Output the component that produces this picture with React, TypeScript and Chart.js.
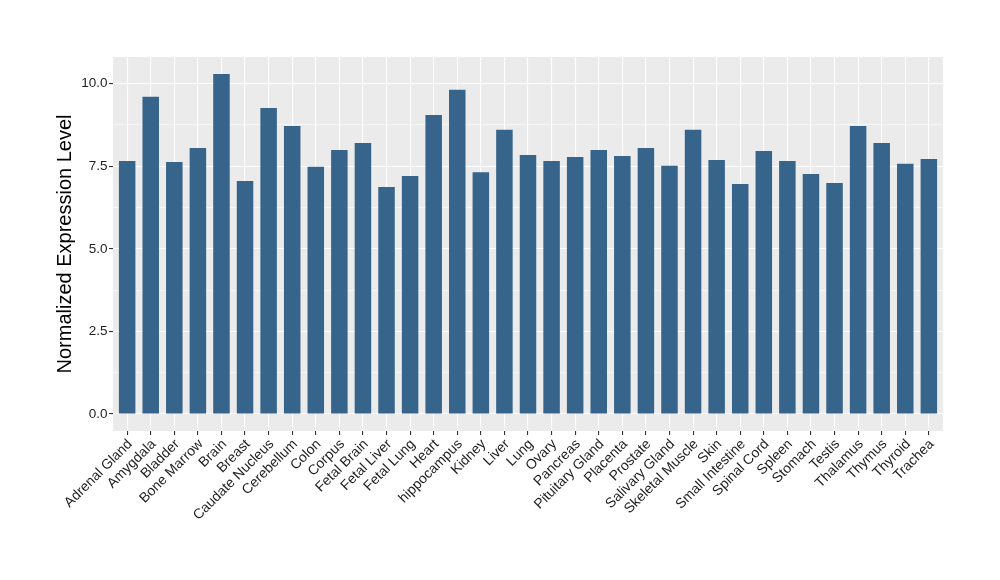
import React, { useEffect, useRef } from 'react';
import { Chart, registerables } from 'chart.js';

Chart.register(...registerables);

const categories = [
  'Adrenal Gland', 'Amygdala', 'Bladder', 'Bone Marrow', 'Brain', 'Breast',
  'Caudate Nucleus', 'Cerebellum', 'Colon', 'Corpus', 'Fetal Brain', 'Fetal Liver',
  'Fetal Lung', 'Heart', 'hippocampus', 'Kidney', 'Liver', 'Lung', 'Ovary',
  'Pancreas', 'Pituitary Gland', 'Placenta', 'Prostate', 'Salivary Gland',
  'Skeletal Muscle', 'Skin', 'Small Intestine', 'Spinal Cord', 'Spleen', 'Stomach',
  'Testis', 'Thalamus', 'Thymus', 'Thyroid', 'Trachea',
];

const values = [
  7.66, 9.60, 7.63, 8.05, 10.29, 7.05,
  9.26, 8.72, 7.48, 7.99, 8.20, 6.87,
  7.20, 9.05, 9.81, 7.32, 8.60, 7.84, 7.66,
  7.78, 7.99, 7.81, 8.05, 7.51,
  8.60, 7.69, 6.96, 7.96, 7.66, 7.26,
  6.99, 8.72, 8.20, 7.57, 7.72,
];

const yMajorTicks = [0, 2.5, 5, 7.5, 10];
const yMinorTicks = [1.25, 3.75, 6.25, 8.75];
const yTitle = 'Normalized Expression Level';

const FONT = '"Liberation Sans", Arial, Helvetica, sans-serif';
const TEXT = '#1F1F1F';

export default function App() {
  const ref = useRef<HTMLCanvasElement>(null);

  useEffect(() => {
    if (!ref.current) return;
    const maxV = Math.max(...values);

    const panelBg = {
      id: 'panelBg',
      beforeDraw(chart: any) {
        const { ctx, chartArea: a } = chart;
        ctx.save();
        ctx.fillStyle = '#EBEBEB';
        ctx.fillRect(a.left, a.top, a.right - a.left, a.bottom - a.top);
        ctx.restore();
      },
    };

    const yTitlePlugin = {
      id: 'yTitlePlugin',
      afterDraw(chart: any) {
        const { ctx, chartArea: a } = chart;
        ctx.save();
        ctx.translate(65, (a.top + a.bottom) / 2);
        ctx.rotate(-Math.PI / 2);
        ctx.font = `20px ${FONT}`;
        ctx.fillStyle = '#000000';
        ctx.textAlign = 'center';
        ctx.textBaseline = 'middle';
        ctx.fillText(yTitle, 0, 0);
        ctx.restore();
      },
    };

    const isMajor = (v: number) => yMajorTicks.includes(v);

    const chart = new Chart(ref.current, {
      type: 'bar',
      data: {
        datasets: [
          {
            data: categories.map((c, i) => ({ x: i, y: values[i] })),
            backgroundColor: '#36648B',
            borderWidth: 0,
            barPercentage: 0.7,
            categoryPercentage: 1,
          },
        ],
      },
      options: {
        responsive: false,
        animation: false,
        devicePixelRatio: 1,
        layout: { padding: { left: 0, top: 57, right: 57, bottom: 0 } },
        plugins: { legend: { display: false }, tooltip: { enabled: false } },
        scales: {
          x: {
            type: 'linear',
            min: -0.6,
            max: categories.length - 0.4,
            offset: false,
            afterBuildTicks: (s: any) => {
              s.ticks = categories.map((_, i) => ({ value: i }));
            },
            afterFit: (s: any) => {
              s.height = 149;
            },
            ticks: {
              autoSkip: false,
              maxRotation: 45,
              minRotation: 45,
              padding: 1,
              labelOffset: 3,
              color: TEXT,
              font: { family: FONT, size: 14 },
              callback: (v: any) => categories[Math.round(Number(v))] ?? '',
            },
            grid: {
              offset: false,
              color: '#FFFFFF',
              lineWidth: 1.1,
              drawTicks: true,
              tickLength: 4,
              tickColor: '#333333',
              tickWidth: 1.1,
            },
            border: { display: false },
          },
          y: {
            type: 'linear',
            min: -0.05 * maxV,
            max: 1.05 * maxV,
            afterBuildTicks: (s: any) => {
              s.ticks = [...yMajorTicks, ...yMinorTicks]
                .sort((a, b) => a - b)
                .map((v) => ({ value: v }));
            },
            afterFit: (s: any) => {
              s.width = 113;
            },
            ticks: {
              padding: 1.5,
              color: TEXT,
              font: { family: FONT, size: 13.5 },
              callback: (v: any) => (isMajor(Number(v)) ? Number(v).toFixed(1) : ''),
            },
            grid: {
              color: '#FFFFFF',
              lineWidth: (ctx: any) => (isMajor(ctx.tick?.value) ? 1.1 : 0.55),
              drawTicks: true,
              tickLength: 4,
              tickColor: (ctx: any) => (isMajor(ctx.tick?.value) ? '#333333' : 'rgba(0,0,0,0)'),
              tickWidth: 1.1,
            },
            border: { display: false },
          },
        },
      },
      plugins: [panelBg, yTitlePlugin],
    } as any);

    return () => chart.destroy();
  }, []);

  return (
    <div style={{ position: 'absolute', left: 0, top: 0, width: 1000, height: 580, background: '#FFFFFF' }}>
      <canvas ref={ref} width={1000} height={580} />
    </div>
  );
}
